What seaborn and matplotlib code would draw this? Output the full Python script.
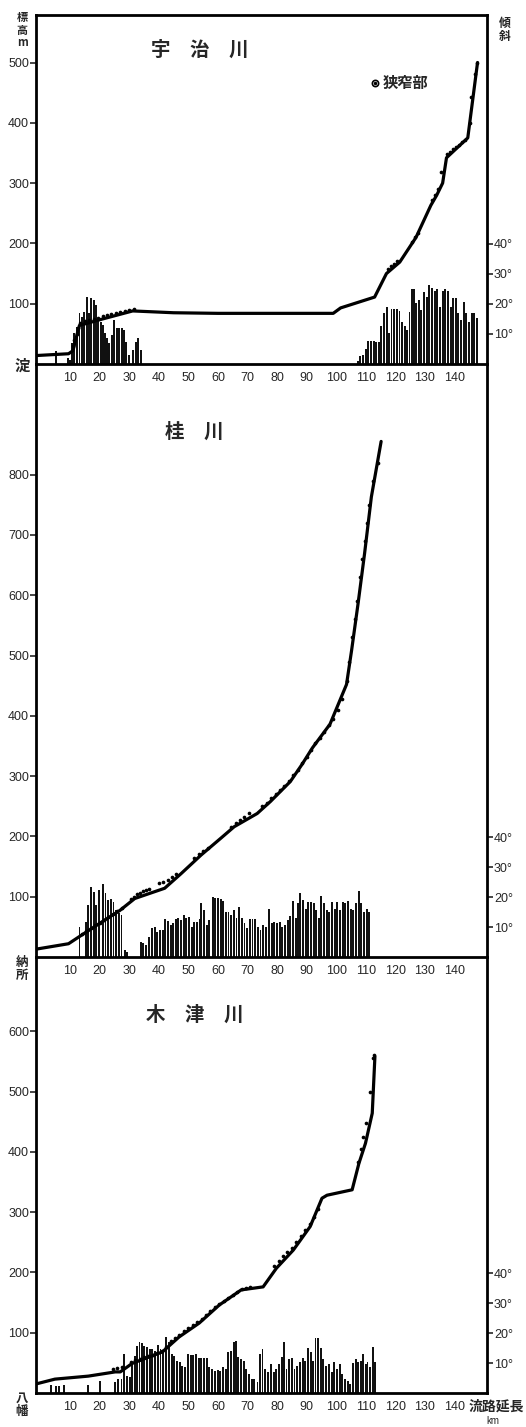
import seaborn as sns
import matplotlib.pyplot as plt

# ---------------------------------------------------------------
# 宇治川
uji_km = [-1.5, 9.5, 11.0, 12.0, 13.2, 20.5, 31.2, 45, 60, 75, 90, 99.0, 101.5,
          113.0, 117.0, 121.5, 127.0, 132.0, 134.0, 136.0, 137.3, 144.5, 147.8]
uji_elev = [14, 17, 22, 42, 64, 74, 88, 85, 84, 84, 84, 84, 93,
            111, 150, 169, 210, 263, 280, 300, 342, 375, 500]
uji_dot_km = [11.0, 11.5, 12.2, 12.8, 13.5, 15, 16.5, 18, 19.5, 21, 22.5, 24, 25.5, 27,
              28.5, 30, 31.5, 117.5, 118.5, 119.5, 120.5, 125.5, 126.5, 127.5, 132.5,
              133.5, 134.5, 135.6, 137.5, 138.5, 139.5, 140.5, 141.5, 142.5, 143.5,
              145.2, 145.7, 146.8, 147.6]
uji_dot_elev = [30, 40, 50, 60, 68, 71, 73, 75, 77, 79, 81, 83, 84, 86,
                88, 90, 92, 158, 162, 166, 170, 203, 210, 218, 272,
                280, 290, 318, 348, 352, 356, 360, 364, 368, 372,
                400, 442, 481, 500]
uji_bar_km = [5.4, 9.2, 10.0, 10.6, 11.5, 12.3, 13.2, 13.9, 14.6, 15.7, 16.3, 17.1, 18.0,
              18.8, 19.6, 20.5, 21.1, 21.8, 22.5, 23.3, 24.1, 25.0, 25.9, 26.7, 27.5,
              28.2, 29.0, 30.1, 31.2, 32.3, 33.1, 34.0,
              107.4, 108.2, 109.0, 110.0, 110.9, 111.9, 112.8, 113.6, 114.4, 115.3, 116.2,
              117.1, 117.8, 118.7, 119.6, 120.5, 121.4, 122.3, 123.2, 124.1, 124.8, 125.5,
              126.4, 127.0, 127.9, 128.8, 129.7, 130.6, 131.5, 132.4, 133.3, 134.2, 135.1,
              136.0, 136.9, 137.8, 138.7, 139.6, 140.5, 141.3, 142.2, 143.1, 144.0, 144.9,
              145.8, 146.7, 147.5]
uji_bar_deg = [4.4, 2.0, 1.5, 6.9, 10.2, 12.4, 16.9, 15.8, 17.4, 22.4, 16.9, 21.9, 21.3,
               19.7, 14.7, 14.1, 13.0, 10.2, 8.6, 6.9, 9.7, 14.7, 11.9, 11.9, 11.9,
               11.3, 7.4, 3.0, 4.7, 7.4, 8.6, 4.7,
               1.0, 2.7, 3.0, 4.9, 7.8, 7.8, 7.8, 7.4, 7.4, 12.7, 16.9,
               18.9, 10.2, 18.2, 18.2, 18.2, 17.8, 14.1, 12.7, 11.3, 17.4, 24.9,
               24.9, 20.2, 21.3, 18.0, 24.1, 22.4, 26.3, 25.2, 24.4, 24.9, 18.9,
               24.4, 24.9, 24.4, 18.9, 21.9, 21.9, 16.9, 14.7, 20.8, 17.1, 14.1,
               16.9, 16.9, 15.2]

# 桂川
kat_km = [-1.5, 9.5, 12.9, 20.7, 26.8, 31.9, 42.0, 47.5, 54.3, 61.0, 65.5, 73.3, 77.8,
          84.5, 88.4, 92.0, 97.9, 103.5, 105.2, 107.4, 109.6, 111.9, 115.2]
kat_elev = [13, 22, 33, 58, 77, 97, 114, 138, 169, 197, 216, 238, 258,
            291, 319, 347, 386, 452, 508, 586, 669, 763, 855]
kat_dot_km = [14, 15.5, 17, 18.5, 20, 21.5, 23, 24.5, 26, 27.5, 30.5, 31.5, 32.5, 33.5,
              34.8, 35.8, 36.8, 40, 41.5, 43, 44.5, 46, 52, 53.5, 55, 56.5,
              64.5, 66, 67.5, 69, 70.5, 75, 76.5, 78, 79.5, 81, 82.5, 84, 85.5, 87,
              88.5, 90, 91.5, 93, 94.5, 96, 97.5, 99, 100.5, 102, 103.5, 104.5, 105.2,
              106.2, 107, 108, 108.8, 109.6, 110.4, 111.2, 112.5, 114]
kat_dot_elev = [38, 43, 48, 53, 57, 62, 66, 71, 76, 82, 96, 100, 104, 106,
                110, 111, 112, 122, 124, 127, 132, 138, 165, 170, 176, 181,
                216, 222, 227, 232, 238, 250, 256, 263, 270, 277, 284, 292, 301, 310,
                321, 331, 343, 355, 364, 373, 384, 395, 410, 428, 458, 490, 530,
                560, 590, 630, 660, 690, 720, 750, 790, 820]
kat_bar_km = [13.2, 15.4, 16.2, 17.1, 18.0, 18.9, 19.8, 21.1, 22.0, 23.0, 23.8, 24.7,
              25.6, 26.5, 27.4, 28.5, 29.2,
              34.1, 34.8, 35.6, 36.7, 37.8, 38.6, 39.5, 40.4, 41.3, 42.2, 43.1, 44.0,
              44.8, 45.7, 46.6, 47.5, 48.4, 49.3, 50.2, 51.1, 52.0, 52.9, 53.8, 54.4,
              55.3, 56.2, 57.1, 58.2, 59.1, 60.0, 60.9, 61.8, 62.7, 63.6, 64.5, 65.4,
              66.3, 67.2, 68.1, 69.0, 69.9, 70.8, 71.7, 72.6, 73.5, 74.4, 75.3, 76.4,
              77.3, 78.2, 79.1, 80.0, 80.9, 81.8, 82.7, 83.6, 84.5, 85.4, 86.3, 87.2,
              87.9, 88.8, 89.7, 90.6, 91.5, 92.4, 93.3, 94.1, 95.0, 95.9, 96.8, 97.7,
              98.6, 99.5, 100.4, 101.3, 102.2, 103.1, 104.0, 104.9, 105.8, 106.7,
              107.6, 108.5, 109.4, 110.3, 111.1]
kat_bar_deg = [10.1, 11.8, 17.3, 23.2, 21.8, 17.3, 22.3, 24.3, 21.2, 19.0, 19.5, 18.4,
               15.7, 14.6, 14.0, 2.3, 1.8,
               5.1, 4.8, 4.0, 6.6, 9.6, 10.1, 8.4, 9.0, 9.0, 12.6, 12.1, 10.7,
               11.4, 12.6, 12.9, 12.3, 14.0, 12.9, 13.4, 10.1, 11.8, 11.8, 12.6, 17.9,
               15.7, 10.7, 12.3, 20.1, 19.8, 19.8, 19.2, 18.7, 15.1, 15.1, 14.0, 15.7,
               12.9, 16.8, 12.9, 11.2, 9.6, 12.6, 12.6, 12.6, 10.1, 9.0, 10.7, 10.1,
               15.9, 11.2, 11.8, 11.2, 11.8, 10.1, 10.7, 12.3, 13.7, 18.7, 12.9, 18.1,
               21.2, 19.0, 15.9, 18.4, 18.4, 17.9, 15.7, 12.9, 20.3, 18.1, 15.7, 15.1,
               18.4, 15.9, 18.4, 15.7, 18.4, 18.1, 18.7, 16.1, 15.7, 18.1,
               22.1, 18.1, 15.1, 16.1, 15.1]

# 木津川
kiz_km = [-1.5, 4.9, 16.2, 25.3, 27.0, 31.0, 41.2, 46.9, 53.7, 60.5, 67.9, 75.3, 79.8,
          85.5, 91.2, 95.2, 96.9, 105.4, 107.7, 109.9, 112.2, 113.1]
kiz_elev = [15, 23, 28, 35, 35, 49, 68, 93, 116, 146, 171, 176, 207,
            237, 276, 323, 328, 337, 381, 414, 464, 558]
kiz_dot_km = [24.5, 26, 27.5, 30.5, 32, 33.5, 35, 36.5, 38, 39.5, 41, 42.5, 44, 45.5,
              47, 48.5, 50, 51.5, 53, 54.5, 56, 57.5, 59, 60.5, 62, 63.5, 65, 66.5,
              68, 69.5, 71, 79, 80.5, 82, 83.5, 85, 86.5, 88, 89.5, 91, 92.5, 94,
              107.5, 108.3, 109, 110, 111.6, 112.6, 112.9]
kiz_dot_elev = [40, 41, 43, 52, 55, 57, 59, 61, 63, 66, 70, 76, 86, 92,
                97, 102, 108, 113, 118, 123, 130, 136, 142, 148, 153, 158, 163, 168,
                172, 174, 176, 210, 219, 227, 234, 241, 250, 260, 270, 280, 292, 305,
                383, 404, 424, 448, 500, 555, 560]
kiz_bar_km = [3.5, 5.2, 6.4, 7.9, 16.0, 20.0, 25.3, 26.3, 27.4, 28.3, 29.2, 30.2, 31.0,
              31.9, 32.8, 33.5, 34.2, 35.1, 36.0, 36.9, 37.8, 38.7, 39.6, 40.6, 41.5,
              42.6, 43.5, 44.4, 45.3, 46.2, 47.1, 48.0, 48.9, 49.9, 50.8, 51.7, 52.6,
              53.5, 54.4, 55.3, 56.2, 57.1, 58.0, 58.9, 59.9, 60.8, 61.7, 62.6, 63.5,
              64.4, 65.3, 66.0, 66.9, 67.8, 68.7, 69.6, 70.5, 71.4, 72.3, 73.4, 74.2,
              75.1, 76.0, 76.9, 78.0, 78.9, 79.8, 80.7, 81.6, 82.3, 83.2, 84.1, 85.0,
              85.9, 86.9, 87.8, 88.7, 89.6, 90.5, 91.4, 92.3, 93.0, 93.9, 94.8, 95.7,
              96.6, 97.5, 98.5, 99.4, 100.3, 101.2, 102.1, 103.0, 103.9, 104.8, 105.7,
              106.6, 107.5, 108.4, 109.1, 110.0, 110.6, 111.4, 112.3, 113.2]
kiz_bar_deg = [2.7, 2.2, 2.2, 2.7, 2.7, 4.1, 3.8, 4.7, 4.7, 13.0, 5.8, 5.2, 9.7,
               12.4, 15.8, 17.1, 16.7, 15.8, 15.2, 14.7, 14.7, 14.1, 16.0, 14.7, 13.6,
               18.6, 16.9, 13.0, 12.4, 10.8, 10.2, 9.1, 8.6, 13.0, 12.7, 12.7, 13.0,
               11.6, 11.6, 11.6, 11.6, 8.6, 8.0, 7.5, 7.8, 7.5, 8.6, 8.0, 13.6,
               14.1, 17.1, 17.4, 12.0, 11.4, 10.8, 8.0, 6.3, 4.7, 4.7, 3.6, 13.0,
               14.7, 8.0, 6.9, 9.7, 6.9, 8.0, 9.7, 12.0, 17.1, 8.0, 11.4, 11.6,
               8.0, 9.1, 10.4, 11.6, 10.8, 14.9, 13.6, 10.8, 18.2, 18.2, 14.9, 11.4,
               9.1, 9.7, 6.9, 10.2, 8.0, 9.7, 6.3, 4.7, 4.1, 3.0, 10.0,
               11.4, 10.2, 10.8, 13.0, 9.7, 10.2, 8.6, 15.2, 10.2]

xtick_km = [10, 20, 30, 40, 50, 60, 70, 80, 90, 100, 110, 120, 130, 140]
deg_ticks = [10, 20, 30, 40]
deg_labels = ['10°', '20°', '30°', '40°']

panels = [
    dict(title='宇　治　川', start='淀', km=uji_km, elev=uji_elev,
         dkm=uji_dot_km, delev=uji_dot_elev, bkm=uji_bar_km, bdeg=uji_bar_deg,
         yticks=[100, 200, 300, 400, 500], top=15, base=364, tpos=(200, 50)),
    dict(title='桂　川', start='納\n所', km=kat_km, elev=kat_elev,
         dkm=kat_dot_km, delev=kat_dot_elev, bkm=kat_bar_km, bdeg=kat_bar_deg,
         yticks=[100, 200, 300, 400, 500, 600, 700, 800], top=364, base=957, tpos=(194, 432)),
    dict(title='木　津　川', start='八\n幡', km=kiz_km, elev=kiz_elev,
         dkm=kiz_dot_km, delev=kiz_dot_elev, bkm=kiz_bar_km, bdeg=kiz_bar_deg,
         yticks=[100, 200, 300, 400, 500, 600], top=957, base=1393, tpos=(195, 1015)),
]

W, H = 526, 1427
LEFT, RIGHT = 36, 487
M_PER_PX = 1 / 0.603
CJK = ['Noto Sans CJK JP', 'DejaVu Sans']

sns.set_style('white')
plt.rcParams['font.family'] = ['Liberation Sans', 'Noto Sans CJK JP', 'DejaVu Sans']

fig = plt.figure(figsize=(W / 100, H / 100), dpi=100)


def fxy(px, py):
    return px / W, 1 - py / H


for i, p in enumerate(panels):
    h_px = p['base'] - p['top']
    ax = fig.add_axes([LEFT / W, 1 - p['base'] / H, (RIGHT - LEFT) / W, h_px / H])
    ax2 = ax.twinx()
    ax.set_zorder(ax2.get_zorder() + 1)
    ax.patch.set_visible(False)

    # slope bars (right axis, degrees)
    ax2.bar(p['bkm'], p['bdeg'], width=0.65, color='#111111', linewidth=0)
    ax2.set_ylim(0, h_px / 3)
    ax2.set_yticks(deg_ticks)
    ax2.set_yticklabels(deg_labels)
    ax2.tick_params(axis='y', direction='out', length=4, width=1.2, labelsize=9, pad=1)
    for s in ax2.spines.values():
        s.set_visible(False)

    # elevation profile (left axis, m)
    sns.lineplot(x=p['km'], y=p['elev'], ax=ax, color='black', linewidth=2.3,
                 estimator=None, sort=False)
    sns.scatterplot(x=p['dkm'], y=p['delev'], ax=ax, color='black', s=7,
                    linewidth=0, zorder=4)

    ax.set_xlim(-1.5, 151)
    ax.set_ylim(0, h_px * M_PER_PX)
    ax.set_yticks(p['yticks'])
    ax.set_xticks(xtick_km)
    ax.tick_params(axis='y', direction='out', length=4, width=1.2, labelsize=9, pad=1)
    ax.tick_params(axis='x', length=0, labelsize=9, pad=6)
    for side in ['left', 'right', 'bottom', 'top']:
        ax.spines[side].set_linewidth(2.0)
        ax.spines[side].set_color('black')
    ax.spines['top'].set_visible(i == 0)

    # title and start-point name
    tx, ty = fxy(*p['tpos'])
    fig.text(tx, ty, p['title'], ha='center', va='center', fontsize=14,
             fontweight='bold', family=CJK)
    sx, sy = fxy(22, p['base'] + (2 if i == 0 else 12))
    fig.text(sx, sy, p['start'], ha='center', va='center',
             fontsize=11 if i == 0 else 9, fontweight='bold', family=CJK,
             linespacing=1.0)

    if i == 0:
        # 狭窄部 legend
        mx, my = fxy(375, 83)
        fig.lines.append(plt.Line2D([mx], [my], marker='o', markersize=4.5,
                                    markerfacecolor='white', markeredgecolor='black',
                                    markeredgewidth=1.2, transform=fig.transFigure))
        fig.lines.append(plt.Line2D([mx], [my], marker='o', markersize=1.5,
                                    color='black', transform=fig.transFigure))
        lx, ly = fxy(383, 83)
        fig.text(lx, ly, '狭窄部', ha='left', va='center', fontsize=11,
                 fontweight='bold', family=CJK)

# axis captions
x0, y0 = fxy(22, 30)
fig.text(x0, y0, '標\n高\nm', ha='center', va='center', fontsize=8,
         fontweight='bold', family=CJK, linespacing=0.95)
x1, y1 = fxy(505, 30)
fig.text(x1, y1, '傾\n斜', ha='center', va='center', fontsize=8.5,
         fontweight='bold', family=CJK, linespacing=1.0)
x2, y2 = fxy(469, 1407)
fig.text(x2, y2, '流路延長', ha='left', va='center', fontsize=10,
         fontweight='bold', family=CJK)
x3, y3 = fxy(493, 1421)
fig.text(x3, y3, 'km', ha='center', va='center', fontsize=7)

fig.savefig('out.png', dpi=100, facecolor='white')
